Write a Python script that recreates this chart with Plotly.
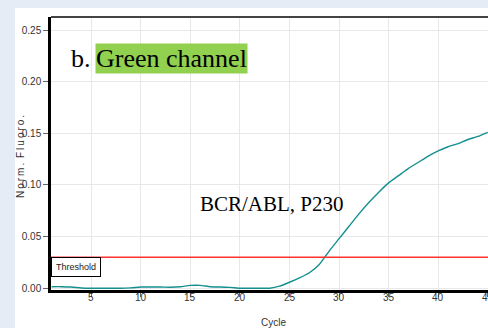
import plotly.graph_objects as go

# ---- data -------------------------------------------------------------
cycles = list(range(1, 46))
fluoro = [0.0015, 0.0015, 0.0012, 0.0003, 0.0000, 0.0000, 0.0000, 0.0000, 0.0004, 0.0012,
          0.0012, 0.0012, 0.0010, 0.0015, 0.0028, 0.0028, 0.0015, 0.0012, 0.0008, 0.0000,
          0.0000, 0.0000, 0.0000, 0.0020, 0.0058, 0.0100, 0.0150, 0.0230, 0.0360, 0.0480,
          0.0600, 0.0720, 0.0830, 0.0930, 0.1020, 0.1090, 0.1160, 0.1220, 0.1280, 0.1330,
          0.1370, 0.1400, 0.1440, 0.1470, 0.1510]
threshold = 0.03
x_ticks = [5, 10, 15, 20, 25, 30, 35, 40, 45]
y_ticks = [0.00, 0.05, 0.10, 0.15, 0.20, 0.25]
panel_label = "b."
channel_label = "Green channel"
target_label = "BCR/ABL, P230"
threshold_label = "Threshold"
x_title = "Cycle"
y_title = "Norm. Fluoro."

# ---- layout constants -----------------------------------------------------
W, H = 488, 328
ML, MR, MT, MB = 51, 0, 17, 38
PW, PH = W - ML - MR, H - MT - MB


def px(xpix):
    return (xpix - ML) / PW


def py(ypix):
    return (H - MB - ypix) / PH


sans = "Liberation Sans, Arial, sans-serif"
serif = "Liberation Serif, Times New Roman, serif"
tick_font = dict(family=sans, size=10, color="#333")

# letter-spaced axis title (thin spaces between letters)
spaced_title = "\u2009 ".join("\u2009".join(word) for word in y_title.split(" "))

fig = go.Figure()
fig.add_trace(go.Scatter(
    x=cycles, y=fluoro, mode="lines",
    line=dict(color="#148f8f", width=1.4, shape="spline", smoothing=0.5),
    showlegend=False, hoverinfo="skip",
))
fig.add_trace(go.Scatter(
    x=[0, 50], y=[threshold, threshold], mode="lines",
    line=dict(color="#ff3030", width=1.6),
    showlegend=False, hoverinfo="skip",
))

# x tick labels as annotations; the last one sits on the window edge
# and is clipped there, as in the reference
edge_labels = [dict(text=str(v), xref="x", yref="paper", x=v, y=py(297.5),
                    xanchor="center", yanchor="middle", showarrow=False,
                    font=tick_font) for v in x_ticks]

fig.update_layout(
    width=W, height=H,
    margin=dict(l=ML, r=MR, t=MT, b=MB, pad=0),
    paper_bgcolor="#e6ecf5",
    plot_bgcolor="white",
    xaxis=dict(
        range=[0.94, 45.02], tickvals=x_ticks, showticklabels=False,
        showgrid=True, gridcolor="#e8e8e8", gridwidth=1.2, zeroline=False,
        showline=True, linecolor="black", linewidth=3,
        ticks="outside", ticklen=4, tickcolor="#666", tickwidth=1,
    ),
    yaxis=dict(
        range=[-0.0017, 0.2626], tickvals=y_ticks, tickformat=".2f",
        showgrid=True, gridcolor="#e8e8e8", gridwidth=1.2, zeroline=False,
        showline=True, linecolor="black", linewidth=2.5,
        ticks="outside", ticklen=5, tickcolor="#666", tickwidth=1,
        tickfont=tick_font,
    ),
    shapes=[
        dict(type="rect", xref="paper", yref="paper",
             x0=px(15), x1=1.01, y0=py(340), y1=py(8),
             fillcolor="white", line=dict(width=0), layer="below"),
        dict(type="line", xref="paper", yref="paper",
             x0=0, x1=1, y0=1, y1=1, line=dict(color="#444", width=2)),
    ],
    annotations=edge_labels + [
        dict(text=panel_label, xref="paper", yref="paper", x=px(69), y=py(58),
             xanchor="left", yanchor="middle", showarrow=False,
             font=dict(family=serif, size=26, color="black")),
        dict(text=channel_label, xref="paper", yref="paper", x=px(95), y=py(58),
             xanchor="left", yanchor="middle", showarrow=False, bgcolor="#92d050",
             borderpad=0, font=dict(family=serif, size=26, color="black")),
        dict(text=target_label, xref="paper", yref="paper", x=px(272), y=py(204),
             xanchor="center", yanchor="middle", showarrow=False,
             font=dict(family=serif, size=21, color="black")),
        dict(text=threshold_label, xref="paper", yref="y", x=0, y=threshold,
             xanchor="left", yanchor="top", showarrow=False, bgcolor="white",
             bordercolor="black", borderwidth=1, borderpad=4,
             font=dict(family=sans, size=9, color="#222")),
        dict(text=x_title, xref="paper", yref="paper", x=px(273), y=py(322),
             xanchor="center", yanchor="middle", showarrow=False,
             font=dict(family=sans, size=10, color="#333")),
        dict(text=spaced_title, xref="paper", yref="paper", x=px(20), y=py(157),
             xanchor="center", yanchor="middle", showarrow=False, textangle=-90,
             font=dict(family=sans, size=10, color="#333")),
    ],
)

fig.write_html("out.html")
